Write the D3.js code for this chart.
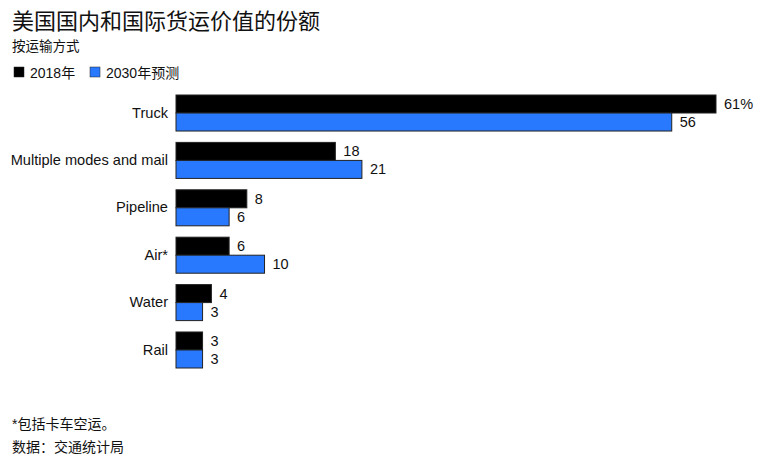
<!DOCTYPE html>
<html>
<head>
<meta charset="utf-8">
<script src="https://cdn.jsdelivr.net/npm/d3@7"></script>
<style>
  body { margin: 0; background: #fff; }
  text { font-family: "Liberation Sans", Arial, "Noto Sans CJK SC", sans-serif; fill: #111; }
</style>
</head>
<body>
<svg id="chart" width="784" height="462"></svg>
<script>
// data
var categories = ["Truck", "Multiple modes and mail", "Pipeline", "Air*", "Water", "Rail"];
var seriesNames = ["2018年", "2030年预测"];
var values2018 = [61, 18, 8, 6, 4, 3];
var values2030 = [56, 21, 6, 10, 3, 3];
var colors = ["#000000", "#2979ff"];

var svg = d3.select("#chart");

// titles
svg.append("text")
    .attr("x", 12).attr("y", 29)
    .style("font-size", "22px")
    .text("美国国内和国际货运价值的份额");
svg.append("text")
    .attr("x", 12).attr("y", 51)
    .style("font-size", "13.5px")
    .text("按运输方式");

// legend
var leg = svg.append("g").attr("transform", "translate(14,67)");
var legX = [0, 76];
seriesNames.forEach(function(s, i){
    var g = leg.append("g").attr("transform", "translate(" + legX[i] + ",0)");
    g.append("rect").attr("width", 10).attr("height", 10).attr("y", 0)
        .attr("fill", colors[i]).attr("stroke", "#222").attr("stroke-width", 0.5);
    g.append("text").attr("x", 16).attr("y", 10.5)
        .style("font-size", "14px").text(s);
});

// scales
var x = d3.scaleLinear().domain([0, 61]).range([176, 716]);
var y = d3.scaleBand().domain(categories).range([95, 368]).paddingInner(0.24).paddingOuter(0);
var sub = d3.scaleBand().domain([0, 1]).range([0, y.bandwidth()]);

// category axis
var yAxis = d3.axisLeft(y).tickSize(0).tickPadding(8);
var ax = svg.append("g").attr("transform", "translate(176,0)").call(yAxis);
ax.select(".domain").remove();
ax.selectAll("text").style("font-size", "14.6px").attr("fill", "#111");

var rows = categories.map(function(c, i){ return {cat: c, vals: [values2018[i], values2030[i]]}; });

var groups = svg.selectAll(".grp").data(rows).enter().append("g")
    .attr("class", "grp")
    .attr("transform", function(d){ return "translate(0," + y(d.cat) + ")"; });

groups.selectAll("rect").data(function(d){ return d.vals.map(function(v, j){ return {v: v, j: j}; }); })
    .enter().append("rect")
    .attr("x", x(0))
    .attr("y", function(d){ return sub(d.j); })
    .attr("width", function(d){ return x(d.v) - x(0); })
    .attr("height", sub.bandwidth())
    .attr("fill", function(d){ return colors[d.j]; })
    .attr("stroke", "#222")
    .attr("stroke-width", 1);

groups.each(function(d, i){
    var g = d3.select(this);
    d.vals.forEach(function(v, j){
        g.append("text")
            .attr("x", x(v) + 8)
            .attr("y", sub(j) + sub.bandwidth() / 2)
            .attr("dy", "0.35em")
            .style("font-size", "14.5px")
            .text(i === 0 && j === 0 ? v + "%" : v);
    });
});

// footnotes
svg.append("text").attr("x", 12).attr("y", 429).style("font-size", "14px").text("*包括卡车空运。");
svg.append("text").attr("x", 12).attr("y", 452).style("font-size", "14px").text("数据：交通统计局");
</script>
</body>
</html>
